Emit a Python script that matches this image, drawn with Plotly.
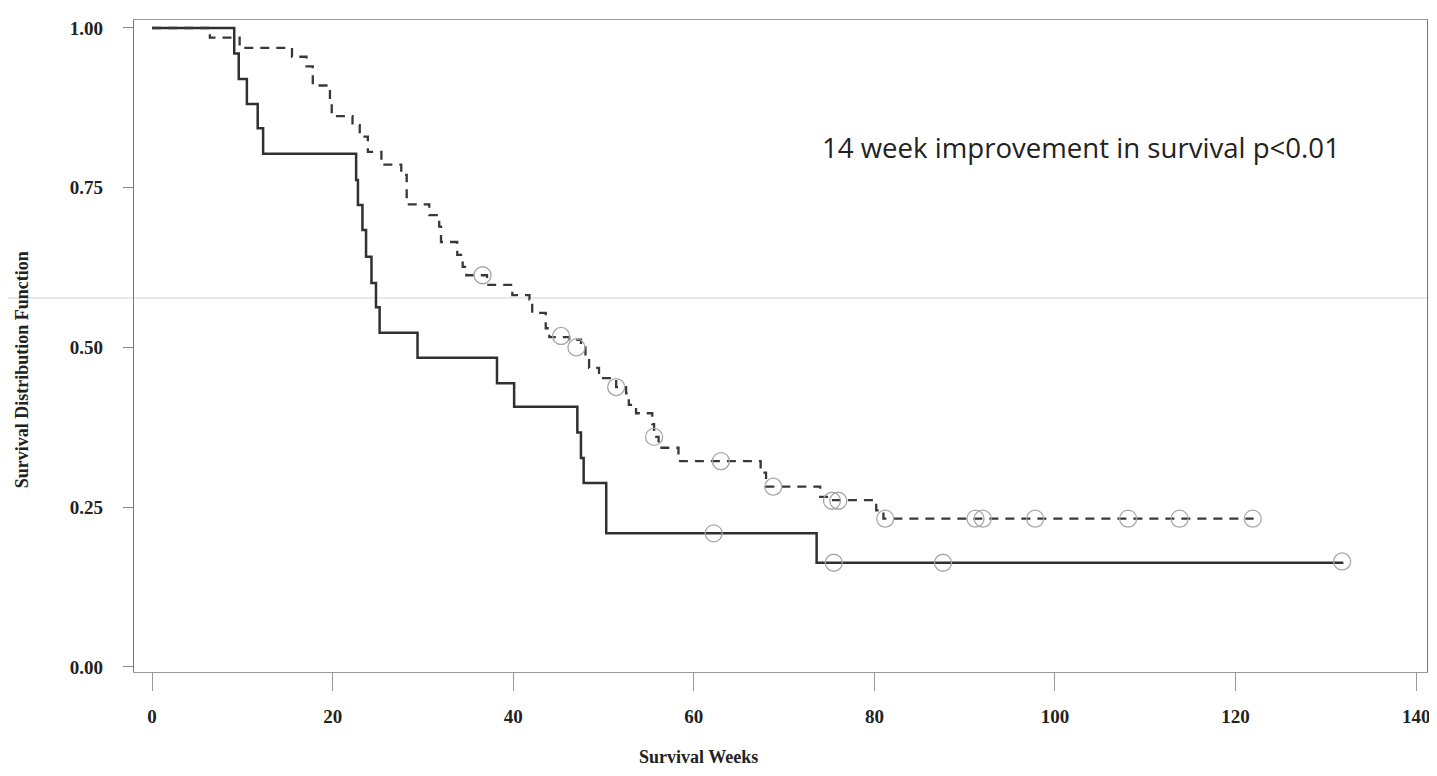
import plotly.graph_objects as go

# ---- data (Kaplan-Meier steps) ----
solid_time = [0, 9.1, 9.6, 10.5, 11.7, 12.3, 22.6, 22.8, 23.3, 23.7, 24.3, 24.8, 25.2,
              29.4, 38.2, 40.1, 47.1, 47.5, 47.8, 50.3, 73.6, 131.8]
solid_surv = [1.0, 0.96, 0.92, 0.881, 0.843, 0.803, 0.762, 0.723, 0.684, 0.642, 0.601, 0.563, 0.523,
              0.484, 0.444, 0.407, 0.367, 0.327, 0.288, 0.209, 0.163, 0.165]
solid_censor_time = [62.2, 75.5, 87.6, 131.8]
solid_censor_surv = [0.209, 0.163, 0.163, 0.165]

dashed_time = [0, 6.4, 9.7, 15.5, 17.1, 17.8, 19.7, 19.9, 22.2, 23.0, 23.9, 25.4, 27.6, 28.2,
               30.7, 31.8, 32.0, 33.8, 34.4, 34.8, 37.1, 39.9, 41.8, 42.1, 43.6, 44.0, 46.2,
               47.5, 48.0, 48.4, 49.5, 51.4, 52.5, 52.8, 53.6, 55.4, 55.6, 56.1, 58.3, 67.4,
               68.0, 74.0, 75.0, 80.2, 81.0, 122.0]
dashed_surv = [1.0, 0.985, 0.969, 0.955, 0.94, 0.91, 0.882, 0.862, 0.848, 0.83, 0.806, 0.786, 0.77, 0.724,
               0.707, 0.689, 0.665, 0.645, 0.626, 0.613, 0.598, 0.582, 0.575, 0.554, 0.53, 0.516, 0.512,
               0.5, 0.485, 0.468, 0.452, 0.438, 0.428, 0.41, 0.397, 0.38, 0.36, 0.343, 0.322, 0.304,
               0.282, 0.266, 0.261, 0.245, 0.232, 0.232]
dashed_censor_time = [36.6, 45.3, 47.0, 51.4, 55.6, 63.0, 68.8, 75.3, 76.0, 81.2, 91.2, 92.0,
                      97.8, 108.1, 113.8, 121.9]
dashed_censor_surv = [0.613, 0.518, 0.5, 0.438, 0.36, 0.322, 0.282, 0.26, 0.26, 0.232, 0.232, 0.232,
                      0.232, 0.232, 0.232, 0.232]

x_ticks = [0, 20, 40, 60, 80, 100, 120, 140]
y_ticks = [0.0, 0.25, 0.5, 0.75, 1.0]
y_tick_text = ["0.00", "0.25", "0.50", "0.75", "1.00"]

annotation_text = "14 week improvement in survival p<0.01"
x_title = "Survival Weeks"
y_title = "Survival Distribution Function"

serif = "Liberation Serif, Times New Roman, serif"

fig = go.Figure()
fig.add_trace(go.Scatter(x=solid_time, y=solid_surv, mode="lines", line_shape="hv",
                         line=dict(color="#303030", width=2.5), showlegend=False, hoverinfo="skip"))
fig.add_trace(go.Scatter(x=dashed_time, y=dashed_surv, mode="lines", line_shape="hv",
                         line=dict(color="#383838", width=2.3, dash="9px,7px"), showlegend=False,
                         hoverinfo="skip"))
fig.add_trace(go.Scatter(x=solid_censor_time, y=solid_censor_surv, mode="markers",
                         marker=dict(symbol="circle-open", size=17, color="#a6a6a6", line=dict(width=1.3)),
                         showlegend=False))
fig.add_trace(go.Scatter(x=dashed_censor_time, y=dashed_censor_surv, mode="markers",
                         marker=dict(symbol="circle-open", size=17, color="#a6a6a6", line=dict(width=1.3)),
                         showlegend=False))

# The page body has an 8px margin, so the figure is placed 8px right/down.
OFF = 8
W, H = 1437 - OFF, 776 - OFF
# plot area in page pixels: left 134, right 1430, top 20, bottom 672
L, R, T, B = 134 - OFF, 1430 - OFF, 20 - OFF, 672 - OFF

def px(x):  # page x -> paper
    return (x - OFF - L) / (R - L)

def py(y):  # page y -> paper
    return (B - (y - OFF)) / (B - T)

fig.add_annotation(text=annotation_text, x=74.0, y=0.814, xref="x", yref="y",
                   xanchor="left", yanchor="middle", showarrow=False,
                   font=dict(family="Open Sans, sans-serif", size=27.6, color="#222"))
fig.add_annotation(text="<b>%s</b>" % x_title, x=px(700), y=py(757), xref="paper", yref="paper",
                   xanchor="center", yanchor="middle", showarrow=False,
                   font=dict(family=serif, size=18, color="#222"))
fig.add_annotation(text="<b>%s</b>" % y_title, x=px(22), y=py(370), xref="paper", yref="paper",
                   xanchor="center", yanchor="middle", showarrow=False, textangle=-90,
                   font=dict(family=serif, size=18, color="#222"))

# faint horizontal scan line across the whole page
fig.add_shape(type="line", xref="paper", yref="paper", x0=px(0), x1=px(1437), y0=py(298), y1=py(298),
              line=dict(color="#d4d4d4", width=1.2), layer="below")

fig.update_layout(
    width=W, height=H,
    margin=dict(l=L, r=W - R, t=T, b=H - B),
    paper_bgcolor="white", plot_bgcolor="white",
    xaxis=dict(range=[-2.0, 141.2], tickvals=x_ticks, showgrid=False, zeroline=False,
               showline=True, linecolor="#999", linewidth=1.2, mirror=True,
               ticks="outside", ticklen=18, tickcolor="#999", tickwidth=1.2,
               ticklabelstandoff=9,
               tickfont=dict(family=serif, size=19, color="#222", weight="bold")),
    yaxis=dict(range=[-0.008, 1.0125], tickvals=y_ticks, ticktext=y_tick_text, showgrid=False,
               zeroline=False, showline=True, linecolor="#777", linewidth=1.2, mirror=True,
               ticks="outside", ticklen=10, tickcolor="#888", tickwidth=1.2,
               ticklabelstandoff=16,
               tickfont=dict(family=serif, size=19, color="#222", weight="bold")),
)

fig.write_html("out.html")
